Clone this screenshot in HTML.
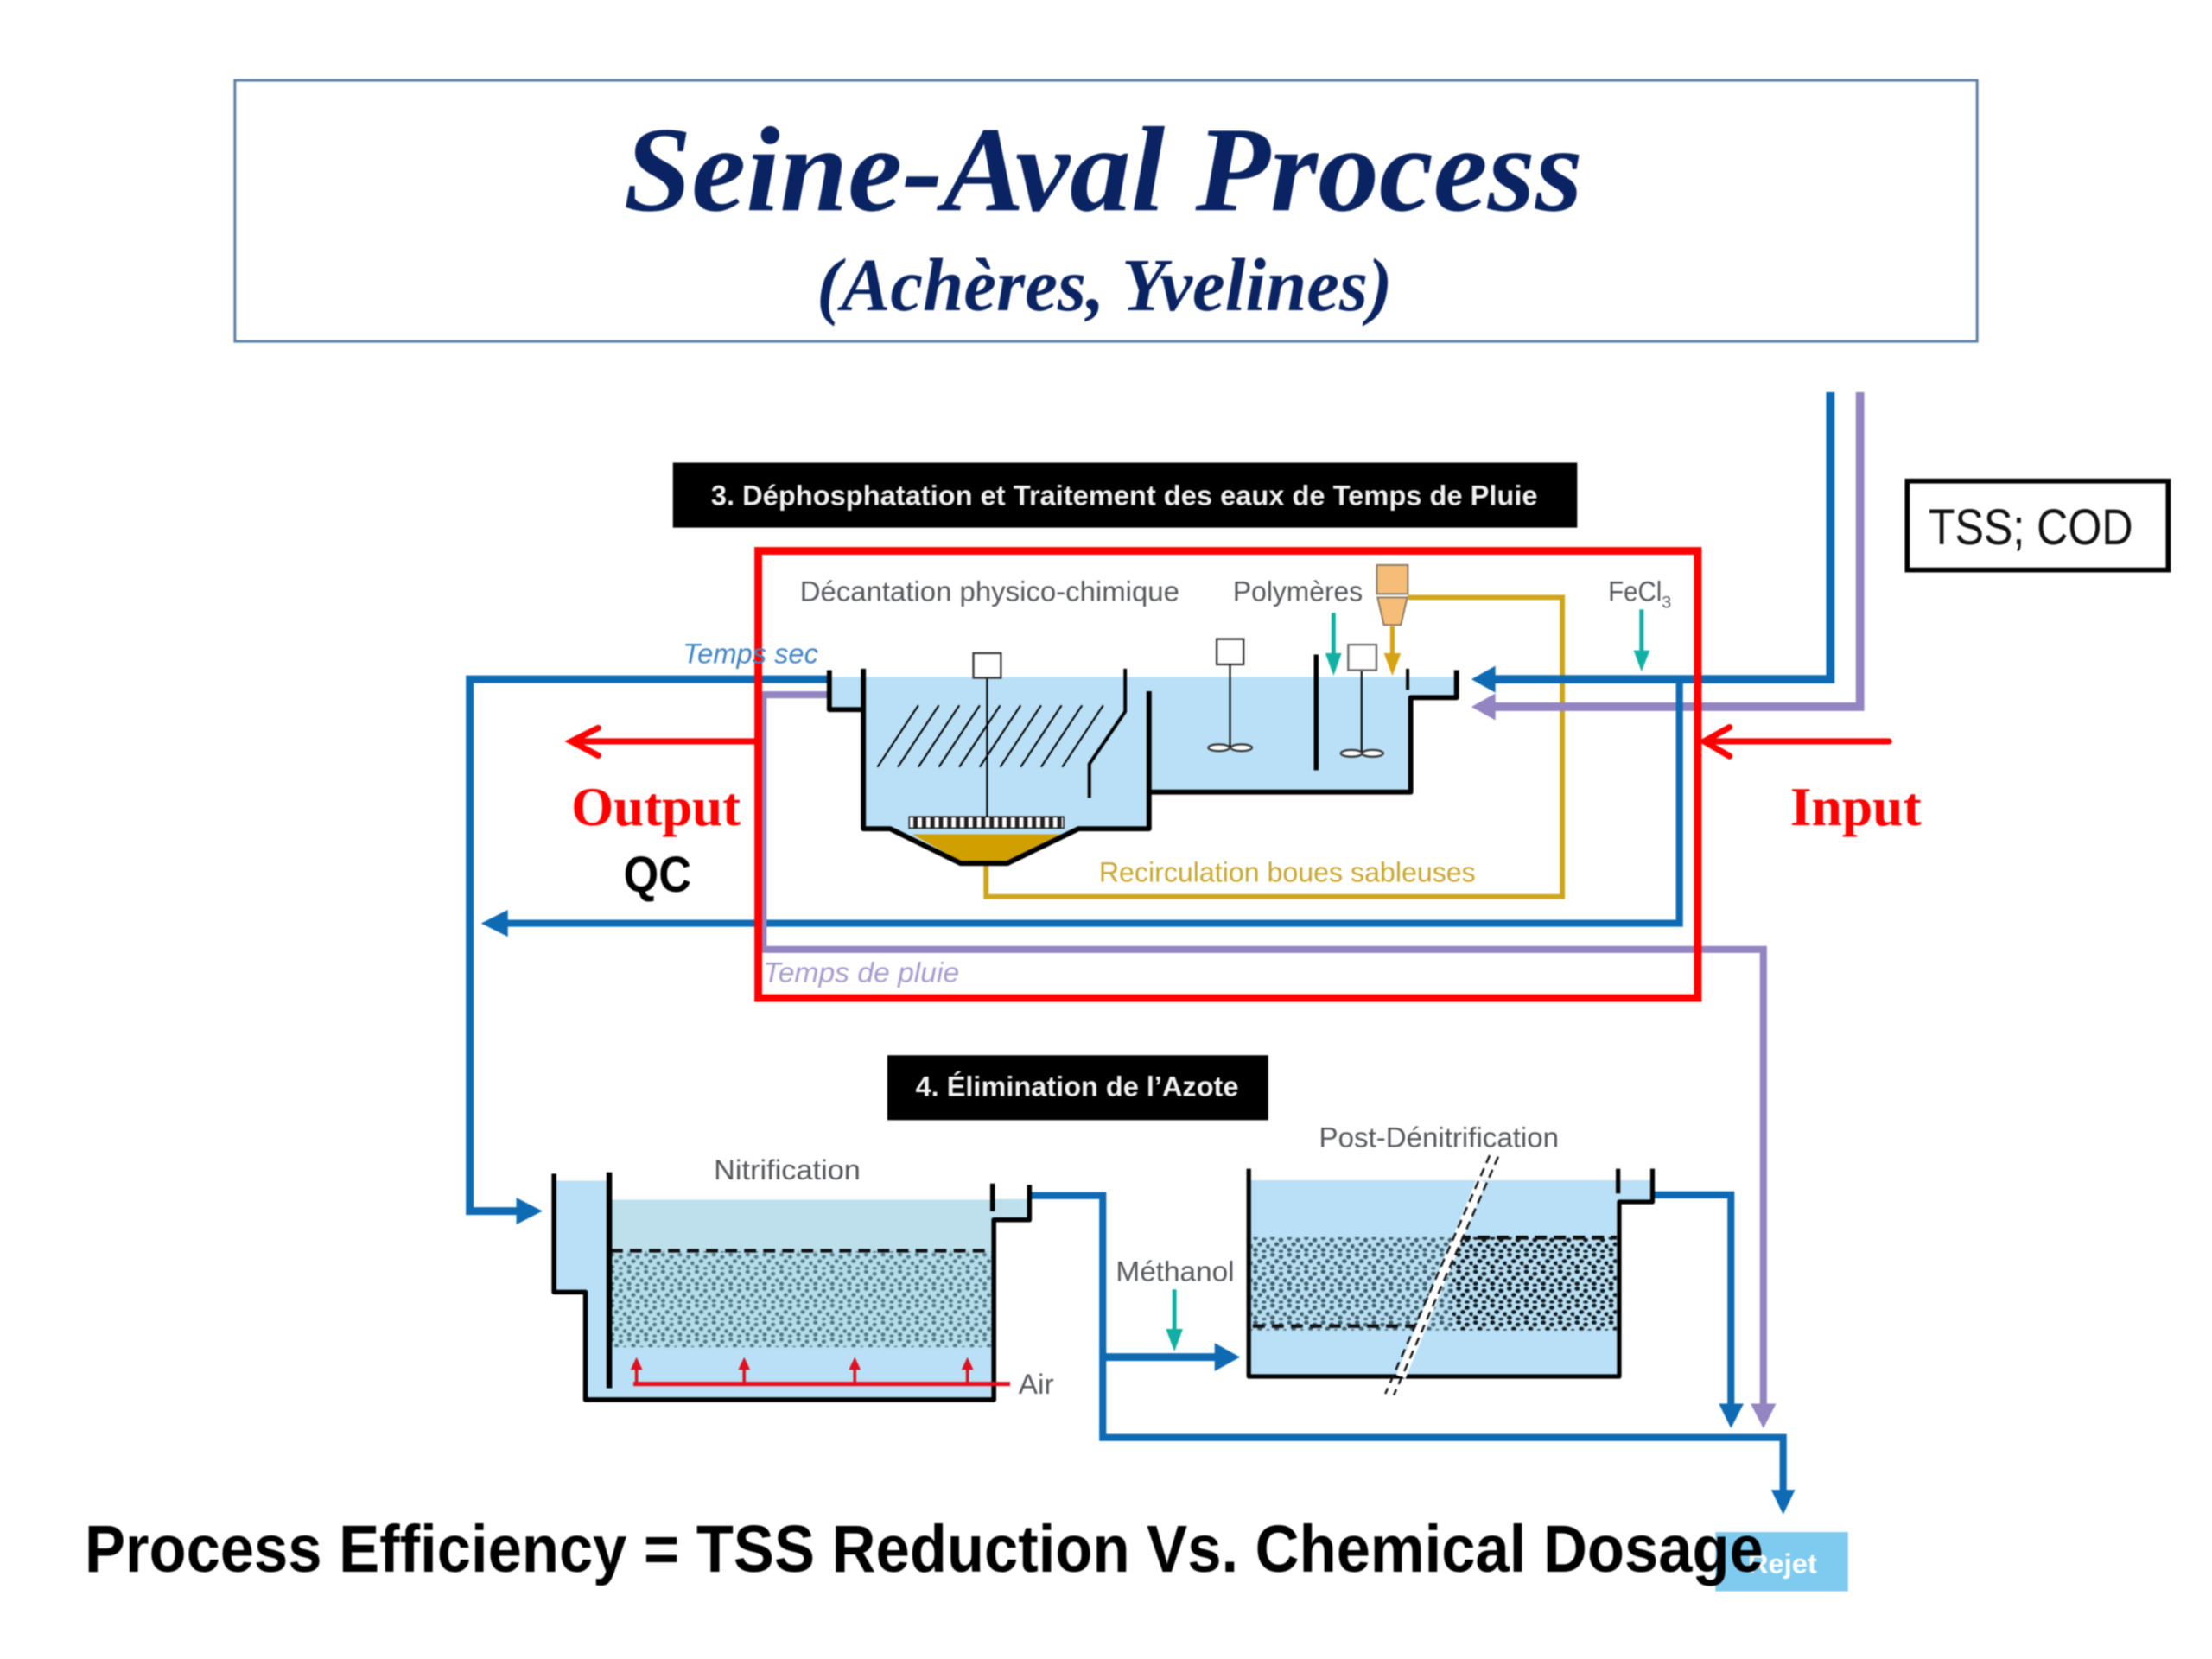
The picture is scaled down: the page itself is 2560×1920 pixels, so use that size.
<!DOCTYPE html>
<html>
<head>
<meta charset="utf-8">
<style>
html,body{margin:0;padding:0;background:#fff;width:2560px;height:1920px;overflow:hidden}
svg{display:block;filter:blur(.9px)}
.s{font-family:"Liberation Sans",sans-serif}
.f{font-family:"Liberation Serif",serif}
</style>
</head>
<body>
<svg width="2560" height="1920" viewBox="0 0 1568 1176" xmlns="http://www.w3.org/2000/svg">
<defs>
<pattern id="mA" width="12" height="12" patternUnits="userSpaceOnUse">
<rect width="12" height="12" fill="#b6dcea"/>
<g fill="#4f7a86">
<ellipse cx="2" cy="1.5" rx="1.6" ry="1.4"/><ellipse cx="8" cy="3" rx="1.6" ry="1.4"/>
<ellipse cx="5" cy="6" rx="1.6" ry="1.4"/><ellipse cx="11" cy="7.5" rx="1.6" ry="1.4"/>
<ellipse cx="2" cy="10" rx="1.6" ry="1.4"/><ellipse cx="8" cy="11" rx="1.6" ry="1"/>
</g>
</pattern>
<pattern id="mB" width="12" height="12" patternUnits="userSpaceOnUse">
<rect width="12" height="12" fill="#b8def2"/>
<g fill="#40606c">
<ellipse cx="2" cy="1.5" rx="1.7" ry="1.5"/><ellipse cx="8" cy="3" rx="1.7" ry="1.5"/>
<ellipse cx="5" cy="6" rx="1.7" ry="1.5"/><ellipse cx="11" cy="7.5" rx="1.7" ry="1.5"/>
<ellipse cx="2" cy="10" rx="1.7" ry="1.5"/><ellipse cx="8" cy="11" rx="1.7" ry="1"/>
</g>
</pattern>
<pattern id="mC" width="12" height="12" patternUnits="userSpaceOnUse">
<rect width="12" height="12" fill="#b8def2"/>
<g fill="#101a20">
<ellipse cx="2" cy="1.5" rx="1.8" ry="1.5"/><ellipse cx="8" cy="3" rx="1.8" ry="1.5"/>
<ellipse cx="5" cy="6" rx="1.8" ry="1.5"/><ellipse cx="11" cy="7.5" rx="1.8" ry="1.5"/>
<ellipse cx="2" cy="10" rx="1.8" ry="1.5"/><ellipse cx="8" cy="11" rx="1.8" ry="1"/>
</g>
</pattern>
</defs>

<!-- Title -->
<rect x="166.5" y="57" width="1235" height="185" fill="#fff" stroke="#5a7ea6" stroke-width="1.8"/>
<text class="f" x="442" y="149" font-size="86" font-weight="bold" font-style="italic" fill="#0a2463" textLength="680" lengthAdjust="spacingAndGlyphs">Seine-Aval Process</text>
<text class="f" x="579" y="220" font-size="53" font-weight="bold" font-style="italic" fill="#0a2463" textLength="408" lengthAdjust="spacingAndGlyphs">(Achères, Yvelines)</text>

<!-- Section labels -->
<rect x="477" y="328" width="641" height="46" fill="#000"/>
<text class="s" x="504" y="358" font-size="20" font-weight="bold" fill="#f2f2f2" textLength="586" lengthAdjust="spacingAndGlyphs">3. Déphosphatation et Traitement des eaux de Temps de Pluie</text>
<rect x="629" y="748" width="270" height="46" fill="#000"/>
<text class="s" x="649" y="777" font-size="20" font-weight="bold" fill="#f2f2f2" textLength="229" lengthAdjust="spacingAndGlyphs">4. Élimination de l’Azote</text>

<rect x="1352" y="341" width="185" height="63" fill="#fff" stroke="#000" stroke-width="3.5"/>
<text class="s" x="1367" y="386" font-size="36" fill="#111" textLength="145" lengthAdjust="spacingAndGlyphs">TSS; COD</text>

<!-- Tank 1 water -->
<path d="M589 480H612V480H1032V494H1000V561H815V587H764L714 612H681L631 587H612V503H589Z" fill="#b9e0f6"/>
<path d="M646.7 591.4H753.2L714 610.5H681Z" fill="#cfa000"/>

<!-- Orange recirculation -->
<g fill="none" stroke="#cfa51c" stroke-width="3.6">
<path d="M998 423.5H1107.5V635.6H699V612"/>
</g>
<rect x="976" y="400.5" width="22" height="20.5" fill="#f6bd78" stroke="#8a7a60" stroke-width="1.2"/>
<path d="M976.5 423.5H997.5L993 443H981Z" fill="#f6bd78" stroke="#8a7a60" stroke-width="1.2"/>
<path d="M987 444V466" stroke="#d6a312" stroke-width="3.2"/>
<path d="M981 463H993L987 479Z" fill="#d6a312"/>

<!-- Blue and purple pipes -->
<g fill="none" stroke-linejoin="miter">
<path d="M1297.5 278V481.5H1058" stroke="#0f6ab4" stroke-width="6"/>
<path d="M1318.5 278V501H1058" stroke="#9384c2" stroke-width="6"/>
<path d="M1190.5 481V654.5H355" stroke="#0f6ab4" stroke-width="5"/>
<path d="M589 481.5H333V858.5H368" stroke="#0f6ab4" stroke-width="5.5"/>
<path d="M589 492.5H541V673H1250V998" stroke="#9384c2" stroke-width="5"/>
<path d="M730 847.5H781.7V1019H1264V1058" stroke="#0f6ab4" stroke-width="5"/>
<path d="M782 962H863" stroke="#0f6ab4" stroke-width="5.5"/>
<path d="M1171 847H1227V998" stroke="#0f6ab4" stroke-width="5"/>
</g>
<g fill="#0f6ab4">
<path d="M1043 481.5L1060 472V491Z"/>
<path d="M341 654.5L360 645V664Z"/>
<path d="M384.5 858.5L366 849V868Z"/>
<path d="M879 962L861 952V972Z"/>
<path d="M1227 1012.5L1218.5 995H1236Z"/>
<path d="M1264 1073.5L1255.5 1056H1272.5Z"/>
</g>
<path d="M1043 501L1060 491.5V510.5Z" fill="#9384c2"/>
<path d="M1250 1012.5L1241 995H1259Z" fill="#9384c2"/>

<!-- Tank 1 walls -->
<g fill="none" stroke="#000" stroke-linejoin="round">
<path d="M587.9 475V503H612M612 474V587.5H631L681 612H714L764.5 587.5H814.5V490" stroke-width="3.6"/>
<path d="M814.5 561.5H1000V494.5H1032.5V475" stroke-width="3.6"/>
<path d="M997.8 474V489" stroke-width="2.4"/>
<path d="M797.6 474V504.4L772.2 541.5V565.6" stroke-width="2.4"/>
<path d="M933 464V546" stroke-width="3.4"/>
<g stroke-width="1.3">
<path d="M651 500L622 543.7M665.5 500L636.5 543.7M680 500L651 543.7M694.5 500L665.5 543.7M709 500L680 543.7M723.5 500L694.5 543.7M738 500L709 543.7M752.5 500L723.5 543.7M767 500L738 543.7M782 500L753 543.7"/>
<path d="M699.7 480V579M871.9 471V530M965.2 475V534"/>
</g>
</g>
<!-- scraper -->
<rect x="644.5" y="579" width="109.5" height="8" fill="#fff" stroke="#222" stroke-width="1"/>
<path d="M649 579v8M655 579v8M661 579v8M667 579v8M673 579v8M679 579v8M685 579v8M691 579v8M697 579v8M703 579v8M709 579v8M715 579v8M721 579v8M727 579v8M733 579v8M739 579v8M745 579v8M751 579v8" stroke="#222" stroke-width="3"/>
<!-- mixers -->
<g fill="#fff" stroke="#333" stroke-width="1.4">
<rect x="690" y="463" width="19.5" height="17.5"/>
<rect x="862.5" y="453" width="19" height="18"/>
<rect x="955.7" y="457" width="20" height="18" stroke="#666"/>
<ellipse cx="864" cy="530" rx="7.5" ry="2.4"/><ellipse cx="880" cy="530" rx="7.5" ry="2.4"/>
<ellipse cx="958" cy="534" rx="7.5" ry="2.4"/><ellipse cx="973" cy="534" rx="7.5" ry="2.4"/>
</g>

<!-- Teal arrows -->
<g stroke="#12b0a4" stroke-width="3" fill="#12b0a4">
<path d="M945.3 434.4V466"/><path d="M939.5 463H951L945.3 479Z" stroke="none"/>
<path d="M1163.6 432V464"/><path d="M1158 461H1169.5L1163.6 476Z" stroke="none"/>
<path d="M832.5 914V945"/><path d="M826.5 942H838.5L832.5 958Z" stroke="none"/>
</g>

<!-- Red box and arrows -->
<rect x="537.5" y="390.5" width="666" height="317" fill="none" stroke="#fe0000" stroke-width="5.5"/>
<g fill="none" stroke="#fe0000" stroke-width="4.4" stroke-linecap="round" stroke-linejoin="miter">
<path d="M535 525.5H406M424 516L405 525.5L424 535.5"/>
<path d="M1339 525.5H1210M1226 515.5L1208 525.5L1226 536"/>
</g>

<!-- Labels -->
<text class="f" x="405" y="585" font-size="39" font-weight="bold" fill="#fe0000" textLength="120" lengthAdjust="spacingAndGlyphs">Output</text>
<text class="f" x="1269" y="585" font-size="39" font-weight="bold" fill="#fe0000" textLength="93" lengthAdjust="spacingAndGlyphs">Input</text>
<text class="s" x="442" y="632" font-size="36" font-weight="bold" fill="#000" textLength="48" lengthAdjust="spacingAndGlyphs">QC</text>
<g class="s" font-size="20" fill="#55575c">
<text x="567" y="426" textLength="269" lengthAdjust="spacingAndGlyphs">Décantation physico-chimique</text>
<text x="874" y="426" textLength="92" lengthAdjust="spacingAndGlyphs">Polymères</text>
<text x="1140" y="426" textLength="38" lengthAdjust="spacingAndGlyphs">FeCl</text>
<text x="1178" y="431" font-size="12">3</text>
<text x="506" y="836" textLength="104" lengthAdjust="spacingAndGlyphs">Nitrification</text>
<text x="722" y="988" textLength="25" lengthAdjust="spacingAndGlyphs">Air</text>
<text x="791" y="908" textLength="84" lengthAdjust="spacingAndGlyphs">Méthanol</text>
<text x="935" y="813" textLength="170" lengthAdjust="spacingAndGlyphs">Post-Dénitrification</text>
</g>
<text class="s" x="484" y="470" font-size="20" font-style="italic" fill="#3f84c6" textLength="96" lengthAdjust="spacingAndGlyphs">Temps sec</text>
<text class="s" x="779" y="625" font-size="20" fill="#c9a62f" textLength="267" lengthAdjust="spacingAndGlyphs">Recirculation boues sableuses</text>
<text class="s" x="541" y="696" font-size="20" font-style="italic" fill="#a79bd0" textLength="139" lengthAdjust="spacingAndGlyphs">Temps de pluie</text>

<!-- Nitrification tank -->
<path d="M393 837H432V851H703V864.7H729V850H703V992H415V916H393Z" fill="#b9e0f6"/>
<rect x="432" y="850.5" width="272" height="36" fill="#bde0ec"/>
<rect x="703.5" y="850.5" width="26" height="13" fill="#bde0ec"/>
<rect x="433" y="887" width="271" height="68" fill="url(#mA)"/>
<path d="M433 886.6H702" stroke="#111" stroke-width="2.6" stroke-dasharray="8.5 5" fill="none"/>
<g fill="none" stroke="#000" stroke-linejoin="round">
<path d="M392.7 832V915.9H415V992.2H704.5V864.7H729.7V840" stroke-width="3.4"/>
<path d="M431.9 831V984" stroke-width="4"/>
<path d="M703.6 839V858.6" stroke-width="3.4"/>
</g>
<g fill="none" stroke="#e01020" stroke-width="2.2">
<path d="M449 981H716" stroke-width="3"/>
<path d="M451.2 981V966M527.5 981V966M605.9 981V966M685.8 981V966"/>
</g>
<g fill="#e01020">
<path d="M451.2 962L447 971H455.4Z"/><path d="M527.5 962L523.3 971H531.7Z"/><path d="M605.9 962L601.7 971H610.1Z"/><path d="M685.8 962L681.6 971H690Z"/>
</g>

<!-- Post-denitrification tank -->
<path d="M885 836.7H1171V852H1147.8V975.7H885Z" fill="#b9e0f6"/>
<rect x="887" y="877" width="142" height="66" fill="url(#mB)"/>
<rect x="1029" y="877" width="117" height="66" fill="url(#mC)"/>
<path d="M888 940H1005" stroke="#111" stroke-width="2.6" stroke-dasharray="8.5 5" fill="none"/>
<path d="M1034 877.3H1146" stroke="#111" stroke-width="2.8" stroke-dasharray="8.5 5" fill="none"/>
<g fill="none" stroke="#000" stroke-linejoin="round">
<path d="M885.2 828.5V975.7H1147.8V852H1171.4V828.5" stroke-width="3.2"/>
<path d="M1147 828.5V846" stroke-width="3.2"/>
</g>
<path d="M1050 837L993 976" stroke="#fff" stroke-width="7"/>
<g fill="none" stroke="#111" stroke-width="1.5" stroke-dasharray="6 4">
<path d="M1056 819L982 988"/><path d="M1062 820L988 989"/>
</g>

<!-- Footer -->
<rect x="1216" y="1086" width="94" height="42" fill="#7fcbef"/>
<text class="s" x="1239" y="1115" font-size="19" font-weight="bold" fill="#fff" textLength="49" lengthAdjust="spacingAndGlyphs">Rejet</text>
<text class="s" x="60" y="1114" font-size="47" font-weight="bold" fill="#000" textLength="1190" lengthAdjust="spacingAndGlyphs">Process Efficiency = TSS Reduction Vs. Chemical Dosage</text>
</svg>
</body>
</html>
